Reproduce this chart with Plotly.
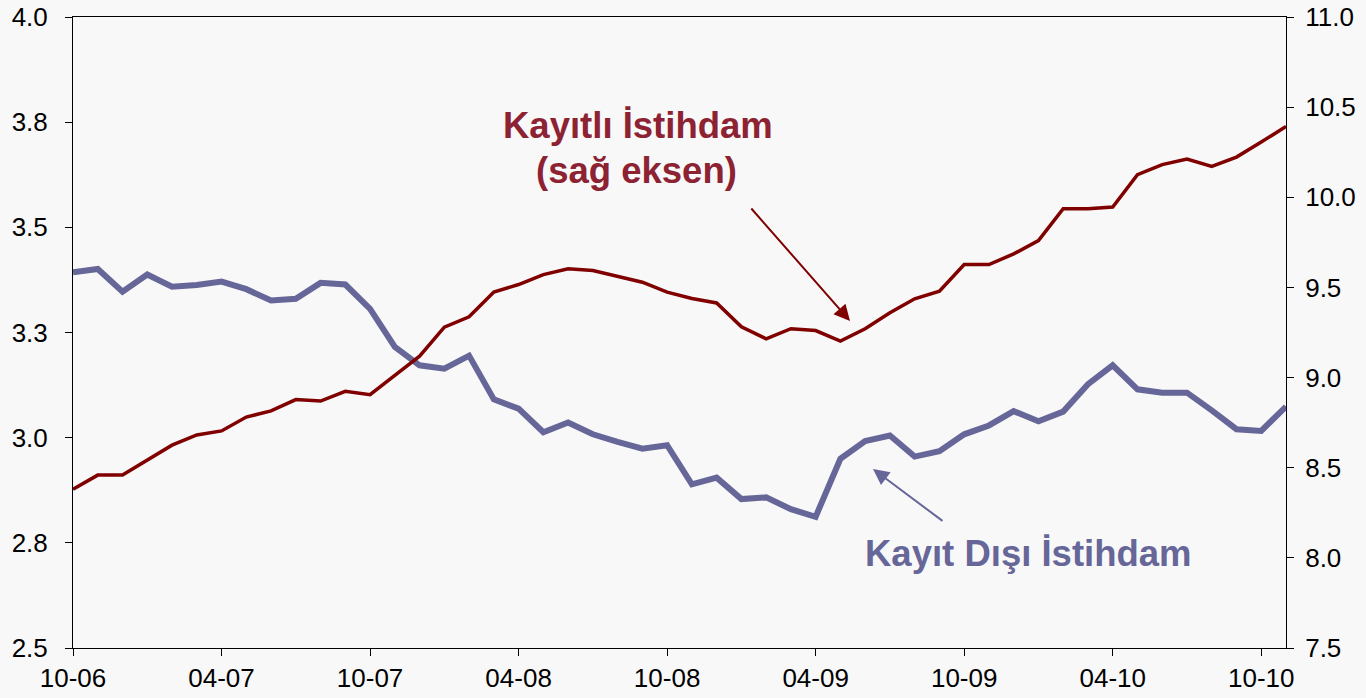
import plotly.graph_objects as go

# Months Oct-2006 .. Nov-2010 (MM-YY)
months = [f"{m:02d}-{y:02d}" for y in range(6, 11) for m in range(1, 13)]
months = months[months.index("10-06"):months.index("11-10") + 1]

tick_months = ["10-06", "04-07", "10-07", "04-08", "10-08", "04-09", "10-09", "04-10", "10-10"]

# Kayıt Dışı İstihdam (left axis, million)
kayit_disi = [3.393, 3.401, 3.347, 3.388, 3.359, 3.363, 3.371, 3.353, 3.326, 3.330,
              3.368, 3.364, 3.306, 3.216, 3.172, 3.164, 3.195, 3.091, 3.069, 3.013,
              3.036, 3.008, 2.990, 2.974, 2.982, 2.889, 2.905, 2.854, 2.858, 2.830,
              2.812, 2.950, 2.992, 3.005, 2.955, 2.968, 3.008, 3.029, 3.063, 3.039,
              3.062, 3.127, 3.172, 3.115, 3.107, 3.107, 3.065, 3.020, 3.016, 3.074]

# Kayıtlı İstihdam (right axis, million)
kayitli = [8.381, 8.459, 8.459, 8.543, 8.625, 8.682, 8.704, 8.781, 8.815, 8.878,
           8.870, 8.924, 8.905, 9.012, 9.119, 9.280, 9.337, 9.474, 9.516, 9.571,
           9.603, 9.594, 9.562, 9.529, 9.474, 9.439, 9.414, 9.282, 9.215, 9.271,
           9.261, 9.202, 9.271, 9.359, 9.437, 9.479, 9.627, 9.627, 9.686, 9.760,
           9.937, 9.937, 9.946, 10.125, 10.181, 10.212, 10.171, 10.223, 10.306, 10.393]

left_tickvals = [2.5, 2.75, 3.0, 3.25, 3.5, 3.75, 4.0]
left_ticktext = ["2.5", "2.8", "3.0", "3.3", "3.5", "3.8", "4.0"]
right_tickvals = [7.5, 8.0, 8.5, 9.0, 9.5, 10.0, 10.5, 11.0]

RED = "#800000"
BLUE = "#666699"
RED_TXT = "#8C2232"
FONT = "Liberation Sans, Arial, sans-serif"

fig = go.Figure()
fig.add_trace(go.Scatter(x=months, y=kayit_disi, mode="lines",
                         line=dict(color=BLUE, width=6), yaxis="y",
                         name="Kayıt Dışı İstihdam"))
fig.add_trace(go.Scatter(x=months, y=kayitli, mode="lines",
                         line=dict(color=RED, width=3.5), yaxis="y2",
                         name="Kayıtlı İstihdam"))

axis_font = dict(family=FONT, size=26, color="#000000")

fig.update_layout(
    width=1366, height=698,
    margin=dict(l=73, r=80, t=17, b=50, autoexpand=False),
    paper_bgcolor="#F8F8F8", plot_bgcolor="#F8F8F8",
    showlegend=False,
    xaxis=dict(type="category", range=[0, len(months) - 1],
               tickmode="array", tickvals=tick_months, ticktext=tick_months,
               ticks="outside", ticklen=7, tickcolor="#000000",
               showline=True, linecolor="#000000", linewidth=1, mirror=True,
               showgrid=False, zeroline=False, tickfont=axis_font,
               automargin=False),
    yaxis=dict(range=[2.5, 4.0], tickmode="array", tickvals=left_tickvals,
               ticktext=left_ticktext, ticks="outside", ticklen=7, tickcolor="#000000",
               showline=True, linecolor="#000000", linewidth=1,
               showgrid=False, zeroline=False, tickfont=axis_font,
               ticklabelstandoff=12, automargin=False),
    yaxis2=dict(range=[7.5, 11.0], overlaying="y", side="right", tickmode="array",
                tickvals=right_tickvals, ticktext=[f"{v:.1f}" for v in right_tickvals],
                ticks="outside", ticklen=7, tickcolor="#000000",
                showline=True, linecolor="#000000", linewidth=1,
                showgrid=False, zeroline=False, tickfont=axis_font,
                ticklabelstandoff=6, automargin=False),
)

W, H = 1366 - 73 - 80, 698 - 17 - 50


def px(xp):
    return (xp - 73) / W


def py(yp):
    return (648 - yp) / H


label_font_red = dict(family=FONT, size=36.5, color=RED_TXT)
label_font_blue = dict(family=FONT, size=36.5, color=BLUE)

fig.add_annotation(x=px(638), y=py(126), xref="paper", yref="paper",
                   text="<b>Kayıtlı İstihdam</b>", showarrow=False,
                   font=label_font_red, xanchor="center", yanchor="middle")
fig.add_annotation(x=px(636), y=py(170), xref="paper", yref="paper",
                   text="<b>(sağ eksen)</b>", showarrow=False,
                   font=label_font_red, xanchor="center", yanchor="middle")
fig.add_annotation(x=px(1028), y=py(553), xref="paper", yref="paper",
                   text="<b>Kayıt Dışı İstihdam</b>", showarrow=False,
                   font=label_font_blue, xanchor="center", yanchor="middle")

# arrows
fig.add_annotation(x=px(850), y=py(321), xref="paper", yref="paper",
                   ax=-100, ay=-114, axref="pixel", ayref="pixel",
                   text="", showarrow=True, arrowhead=2, arrowsize=1.6,
                   arrowwidth=2, arrowcolor=RED)
fig.add_annotation(x=px(873), y=py(469), xref="paper", yref="paper",
                   ax=71, ay=53, axref="pixel", ayref="pixel",
                   text="", showarrow=True, arrowhead=2, arrowsize=1.6,
                   arrowwidth=2, arrowcolor=BLUE)

fig.write_html(
    "out.html",
    config={"displayModeBar": False},
    post_script="document.body.style.margin='0';document.body.style.overflow='hidden';",
)
